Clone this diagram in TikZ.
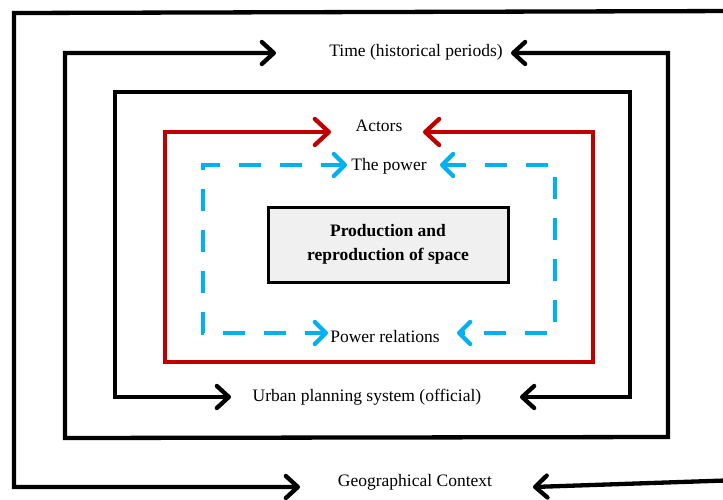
\documentclass[tikz,border=0pt]{standalone}
\usepackage{fontspec}
\setmainfont{Liberation Serif}
\usetikzlibrary{arrows.meta}
\definecolor{myred}{HTML}{C00000}
\definecolor{myblue}{HTML}{00B0F0}
\definecolor{boxgray}{HTML}{F0F0F0}
\tikzset{
  frameblk/.style={draw=black,line width=4.3pt,line join=miter},
  framered/.style={draw=myred,line width=4.3pt,line join=miter},
  frameblue/.style={draw=myblue,line width=4.3pt,dash pattern=on 22pt off 19pt},
  tipblk/.style={arrows={-{Straight Barb[length=12pt,width=22pt,line cap=round,line join=round]}}},
  tipblkboth/.style={arrows={{Straight Barb[length=12pt,width=22pt,line cap=round,line join=round]}-{Straight Barb[length=12pt,width=22pt,line cap=round,line join=round]}}},
  tipredboth/.style={arrows={{Straight Barb[length=14pt,width=26pt,line cap=round,line join=round]}-{Straight Barb[length=14pt,width=26pt,line cap=round,line join=round]}}},
  tipblueboth/.style={arrows={{Straight Barb[length=11pt,width=22pt,line cap=round,line join=round]}-{Straight Barb[length=11pt,width=22pt,line cap=round,line join=round]}}},
  lbl/.style={inner sep=0pt,anchor=base,font=\fontsize{17.5}{24}\selectfont},
  centerbox/.style={draw=black,line width=3pt,fill=boxgray,minimum width=240pt,minimum height=75pt,align=center,font=\fontsize{17.5}{24}\selectfont\bfseries}
}
\begin{document}
\begin{tikzpicture}[x=1pt,y=-1pt]
\useasboundingbox (0,0) rectangle (723,499);
\clip (0,0) rectangle (723,499);
% labels
\node[lbl] (geo) at (415,486) {Geographical Context};
\node[lbl] (time) at (416,56) {Time (historical periods)};
\node[lbl] (urban) at (367,401) {Urban planning system (official)};
\node[lbl] (actors) at (379,131) {Actors};
\node[lbl] (power) at (389,170) {The power};
\node[lbl] (rel) at (385,342) {Power relations};
\node[centerbox] (prod) at (388,244.5) {Production and\\reproduction of space};
% outer frame: geographical context
\coordinate (gTR) at (740,11);
\coordinate (gTL) at (14,13);
\coordinate (gBL) at (14,487);
\coordinate (gTip1) at (300,487);
\coordinate (gR) at (740,480);
\coordinate (gTip2) at (533,487);
\draw[frameblk,tipblk] (gTR) -- (gTL) -- (gBL) -- (gTip1);
\draw[frameblk,tipblk] (gR) -- (gTip2);
% time frame
\coordinate (tTip1) at (276,53);
\coordinate (tTL) at (65,53);
\coordinate (tBL) at (65,438);
\coordinate (tBR) at (668,437);
\coordinate (tTR) at (668,53);
\coordinate (tTip2) at (511,53);
\draw[frameblk,tipblkboth] (tTip1) -- (tTL) -- (tBL) -- (tBR) -- (tTR) -- (tTip2);
% urban planning frame
\coordinate (uTip1) at (231,397);
\coordinate (uBL) at (115,397);
\coordinate (uTL) at (115,92);
\coordinate (uTR) at (630,92);
\coordinate (uBR) at (630,397);
\coordinate (uTip2) at (520,397);
\draw[frameblk,tipblkboth] (uTip1) -- (uBL) -- (uTL) -- (uTR) -- (uBR) -- (uTip2);
% actors frame
\coordinate (aTip1) at (331,132);
\coordinate (aTL) at (165,132);
\coordinate (aBL) at (165,362);
\coordinate (aBR) at (593,362);
\coordinate (aTR) at (593,132);
\coordinate (aTip2) at (423,132);
\draw[framered,tipredboth] (aTip1) -- (aTL) -- (aBL) -- (aBR) -- (aTR) -- (aTip2);
% power frame (dashed)
\coordinate (pTip1) at (347,165);
\coordinate (pTL) at (203,165);
\coordinate (pBL) at (203,333);
\coordinate (pTip2) at (328,333);
\coordinate (pTip3) at (440,165);
\coordinate (pTR) at (555,165);
\coordinate (pBR) at (555,333);
\coordinate (pTip4) at (457,333);
\draw[frameblue,tipblueboth] (pTip1) -- (pTL) -- (pBL) -- (pTip2);
\draw[frameblue,tipblueboth] (pTip3) -- (pTR) -- (pBR) -- (pTip4);
\end{tikzpicture}
\end{document}
